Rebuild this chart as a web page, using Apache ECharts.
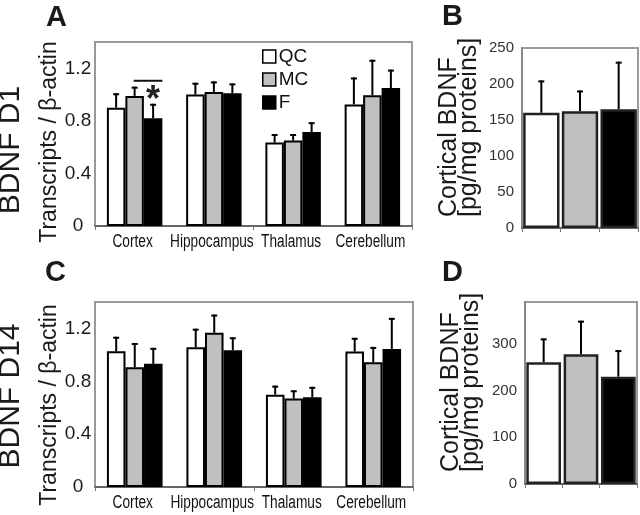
<!DOCTYPE html>
<html>
<head>
<meta charset="utf-8">
<script src="https://cdn.jsdelivr.net/npm/echarts@6/dist/echarts.min.js"></script>
<style>
html,body{margin:0;padding:0;background:#fff;}
#chart{width:640px;height:515px;}
</style>
</head>
<body>
<div id="chart"></div>
<script>
// ---------- data ----------
const regions = ['Cortex', 'Hippocampus', 'Thalamus', 'Cerebellum'];
const groups = ['QC', 'MC', 'F'];

// Panel A: BDNF D1, transcripts / beta-actin (means and upper error)
const d1QC = [0.90, 1.00, 0.635, 0.925];
const d1MC = [0.99, 1.02, 0.65, 0.995];
const d1F  = [0.82, 1.01, 0.715, 1.05];
const d1QCErr = [0.11, 0.09, 0.065, 0.205];
const d1MCErr = [0.07, 0.08, 0.05, 0.27];
const d1FErr  = [0.11, 0.075, 0.075, 0.14];
const d1SigLevel = 1.105;   // Cortex MC vs F significance bar

// Panel B: cortical BDNF protein, D1
const proteinD1 = [160, 162, 165];
const proteinD1Err = [45, 29, 66];

// Panel C: BDNF D14, transcripts / beta-actin
const d14QC = [1.027, 1.058, 0.699, 1.025];
const d14MC = [0.906, 1.167, 0.669, 0.944];
const d14F  = [0.932, 1.035, 0.679, 1.045];
const d14QCErr = [0.11, 0.14, 0.068, 0.104];
const d14MCErr = [0.184, 0.138, 0.063, 0.116];
const d14FErr  = [0.121, 0.098, 0.079, 0.235];

// Panel D: cortical BDNF protein, D14
const proteinD14 = [261, 278, 230];
const proteinD14Err = [51, 72, 57];

// axis scales
const transMax = 1.4, transStep = 0.4;
const bMax = 250, bStep = 50;
const dMax = 390, dStep = 100;

// ---------- styling ----------
const fillColors = ['#ffffff', '#c0c0c0', '#000000'];
const SANS = '"Liberation Sans", Arial, Helvetica, sans-serif';
const GROUP_GAP = 0.30;

const chart = echarts.init(document.getElementById('chart'), null, {renderer: 'canvas'});

function groupedBar(name, gi, data, idx) {
  return {
    name: name, type: 'bar', xAxisIndex: gi, yAxisIndex: gi,
    data: data, barGap: '0%', barCategoryGap: (GROUP_GAP * 100) + '%',
    itemStyle: {color: fillColors[idx], borderColor: '#000', borderWidth: 2},
    z: 3, silent: true
  };
}

function groupedErr(gi, means, errs, idx, n, gap) {
  return {
    type: 'custom', xAxisIndex: gi, yAxisIndex: gi, z: 2, silent: true,
    data: means.map((m, i) => [i, m, m + errs[i]]),
    renderItem: function (params, api) {
      const band = api.size([1, 0])[0];
      const bw = band * (1 - gap) / n;
      const c = api.coord([api.value(0), 0])[0];
      const x = c - band * (1 - gap) / 2 + bw * (idx + 0.5);
      const y0 = api.coord([api.value(0), api.value(1)])[1];
      const y1 = api.coord([api.value(0), api.value(2)])[1];
      return {type: 'group', children: [
        {type: 'line', shape: {x1: x, y1: y0, x2: x, y2: y1}, style: {stroke: '#000', lineWidth: 2}},
        {type: 'line', shape: {x1: x - 3, y1: y1 + 1, x2: x + 3, y2: y1 + 1}, style: {stroke: '#000', lineWidth: 2}}
      ]};
    }
  };
}

// condensed category labels placed through the category axis
function catLabels(gi, cats) {
  return {
    type: 'custom', xAxisIndex: gi, yAxisIndex: gi, silent: true, z: 5,
    data: cats.map((c, i) => [i, 0]),
    renderItem: function (params, api) {
      const p = api.coord([api.value(0), 0]);
      return {type: 'text', x: p[0] - 2, y: p[1] + 7, scaleX: 0.76,
        style: {text: cats[params.dataIndex], fontSize: 18, fontFamily: SANS, fill: '#111', align: 'center', verticalAlign: 'top'}};
    }
  };
}

function singleBar(gi, data, gapPct) {
  return {
    type: 'bar', xAxisIndex: gi, yAxisIndex: gi, barCategoryGap: gapPct + '%',
    data: data.map((v, i) => ({value: v, itemStyle: {color: fillColors[i]}})),
    itemStyle: {borderColor: '#222', borderWidth: 2.5},
    z: 3, silent: true
  };
}

function catAxis(gi, data) {
  return {
    gridIndex: gi, type: 'category', data: data,
    axisLine: {show: true, lineStyle: {color: '#666', width: 2}},
    axisTick: {show: true, length: 4, lineStyle: {color: '#777', width: 1}},
    axisLabel: {show: false},
    splitLine: {show: false}
  };
}

function valAxisTrans(gi) {
  return {
    gridIndex: gi, type: 'value', min: 0, max: transMax, interval: transStep,
    axisLine: {show: true, lineStyle: {color: '#999', width: 2}},
    axisTick: {show: false}, splitLine: {show: false},
    axisLabel: {showMaxLabel: false, align: 'center', margin: 17, fontFamily: SANS, fontSize: 19, color: '#1a1a1a',
      formatter: v => v === 0 ? '0' : v.toFixed(1)}
  };
}

function valAxisProt(gi, max, step) {
  return {
    gridIndex: gi, type: 'value', min: 0, max: max, interval: step,
    axisLine: {show: true, lineStyle: {color: '#888', width: 2}},
    axisTick: {show: false}, splitLine: {show: false},
    axisLabel: {showMaxLabel: max % step === 0, margin: 8, fontFamily: SANS, fontSize: 15, color: '#333'}
  };
}

const gridStyle = {show: true, borderColor: '#9a9a9a', borderWidth: 2, backgroundColor: 'transparent'};

const sigSeries = {
  type: 'custom', xAxisIndex: 0, yAxisIndex: 0, z: 4, silent: true,
  data: [[0, d1SigLevel, d1F[0] + d1FErr[0]]],
  renderItem: function (params, api) {
    const band = api.size([1, 0])[0];
    const bw = band * (1 - GROUP_GAP) / 3;
    const c = api.coord([api.value(0), 0])[0];
    const y = api.coord([api.value(0), api.value(1)])[1];
    const yErr = api.coord([api.value(0), api.value(2)])[1];
    return {type: 'group', children: [
      {type: 'line', shape: {x1: c - 1, y1: y, x2: c + bw * 1.5, y2: y}, style: {stroke: '#111', lineWidth: 2}},
      {type: 'text', x: c + bw, y: yErr - 3,
        style: {text: '*', fontSize: 36, fontWeight: 'bold', fontFamily: SANS, fill: '#222', align: 'center', verticalAlign: 'middle'}}
    ]};
  }
};

function label(text, x, y, size, opts) {
  return Object.assign({type: 'text', x: x, y: y, silent: true,
    style: Object.assign({text: text, fontSize: size, fontFamily: SANS, fill: '#1a1a1a', align: 'center', verticalAlign: 'middle'}, opts || {})});
}

const option = {
  animation: false,
  backgroundColor: '#fff',
  grid: [
    Object.assign({left: 95, top: 42, width: 317, height: 184}, gridStyle),
    Object.assign({left: 522, top: 48, width: 116, height: 180}, gridStyle),
    Object.assign({left: 95, top: 302, width: 318, height: 185}, gridStyle),
    Object.assign({left: 525, top: 302, width: 112, height: 182}, gridStyle)
  ],
  xAxis: [
    catAxis(0, regions),
    catAxis(1, groups),
    catAxis(2, regions),
    catAxis(3, groups)
  ],
  yAxis: [
    valAxisTrans(0),
    valAxisProt(1, bMax, bStep),
    valAxisTrans(2),
    valAxisProt(3, dMax, dStep)
  ],
  legend: {
    data: groups, orient: 'vertical', left: 262, top: 47, padding: 0,
    itemWidth: 13, itemHeight: 13, itemGap: 4, icon: 'rect', selectedMode: false,
    itemStyle: {borderColor: '#000', borderWidth: 1.5},
    textStyle: {fontFamily: SANS, fontSize: 19, color: '#111', padding: [0, 0, 0, -2]}
  },
  series: [
    groupedBar('QC', 0, d1QC, 0), groupedBar('MC', 0, d1MC, 1), groupedBar('F', 0, d1F, 2),
    groupedErr(0, d1QC, d1QCErr, 0, 3, GROUP_GAP), groupedErr(0, d1MC, d1MCErr, 1, 3, GROUP_GAP), groupedErr(0, d1F, d1FErr, 2, 3, GROUP_GAP),
    sigSeries, catLabels(0, regions),
    singleBar(1, proteinD1, 6), groupedErr(1, proteinD1, proteinD1Err, 0, 1, 0.06),
    groupedBar('QC', 2, d14QC, 0), groupedBar('MC', 2, d14MC, 1), groupedBar('F', 2, d14F, 2),
    groupedErr(2, d14QC, d14QCErr, 0, 3, GROUP_GAP), groupedErr(2, d14MC, d14MCErr, 1, 3, GROUP_GAP), groupedErr(2, d14F, d14FErr, 2, 3, GROUP_GAP),
    catLabels(2, regions),
    singleBar(3, proteinD14, 7), groupedErr(3, proteinD14, proteinD14Err, 0, 1, 0.07)
  ],
  graphic: [
    label('A', 56.5, 18, 29, {fontWeight: 900}),
    label('B', 452.5, 17, 29, {fontWeight: 900}),
    label('C', 55.5, 273, 29, {fontWeight: 900}),
    label('D', 452.5, 273, 29, {fontWeight: 900}),
    label('BDNF D1', 11, 150, 30, {}),
    label('BDNF D14', 11, 396, 30, {}),
    label('Transcripts / β-actin', 50, 142, 23, {}),
    label('Transcripts / β-actin', 50, 405, 23, {}),
    label('Cortical BDNF\n[pg/mg proteins]', 459, 217, 25, {align: 'left', lineHeight: 20}),
    label('Cortical BDNF\n[pg/mg proteins]', 461, 472, 25, {align: 'left', lineHeight: 20})
  ].map((g, i) => (i >= 4 ? Object.assign(g, {rotation: Math.PI / 2}) : g))
};

chart.setOption(option);
</script>
</body>
</html>
